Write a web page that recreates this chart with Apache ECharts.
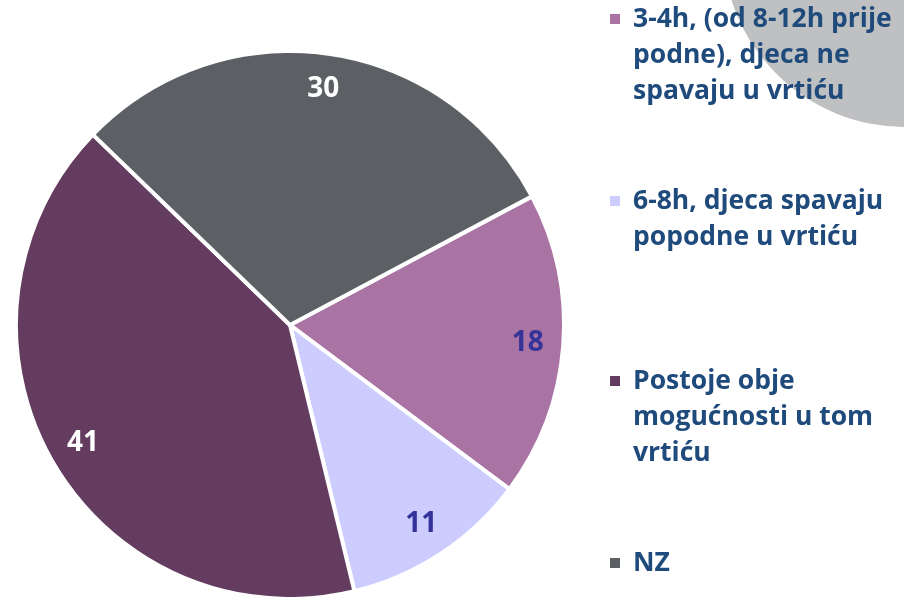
<!DOCTYPE html>
<html>
<head>
<meta charset="utf-8">
<script src="https://cdn.jsdelivr.net/npm/echarts@6/dist/echarts.min.js"></script>
<style>
  html, body { margin: 0; padding: 0; background: #fff; }
  #chart { width: 904px; height: 597px; }
</style>
</head>
<body>
<div id="chart"></div>
<script>
// data
const categories = [
  '3-4h, (od 8-12h prije podne), djeca ne spavaju u vrtiću',
  '6-8h, djeca spavaju popodne u vrtiću',
  'Postoje obje mogućnosti u tom vrtiću',
  'NZ'
]
const legendLines = [
  ['3-4h, (od 8-12h prije', 'podne), djeca ne', 'spavaju u vrtiću'],
  ['6-8h, djeca spavaju', 'popodne u vrtiću'],
  ['Postoje obje', 'mogućnosti u tom', 'vrtiću'],
  ['NZ']
]
const values = [18, 11, 41, 30]
const colors = ['#a974a4', '#ccccff', '#643c5f', '#5c6064']
const labelColors = ['#333399', '#333399', '#ffffff', '#ffffff']

const LINE_H = 36
const legendTops = [1, 183, 363, 545]

// square marker sitting on the first line of a multi-line legend entry
function markerIcon(lines) {
  const h = lines * LINE_H
  return 'path://M0,0h0.01v0.01h-0.01z M0,13h10v10h-10z M0,' + (h - 0.01) + 'h0.01v0.01h-0.01z'
}

const pieData = categories.map((name, i) => ({
  name: name,
  value: values[i],
  itemStyle: {color: colors[i]},
  label: {color: labelColors[i]}
}))

const legends = categories.map((name, i) => ({
  orient: 'vertical',
  left: 610,
  top: legendTops[i],
  padding: 0,
  itemWidth: 10,
  itemHeight: legendLines[i].length * LINE_H,
  itemGap: 0,
  selectedMode: false,
  data: [{name: name, icon: markerIcon(legendLines[i].length)}],
  itemStyle: {borderWidth: 0},
  formatter: () => legendLines[i].join('\n'),
  textStyle: {
    fontFamily: 'Open Sans',
    fontWeight: 'bold',
    fontSize: 26.5,
    lineHeight: LINE_H,
    color: '#1f4a7c',
    padding: [0, 0, 0, 8]
  }
}))

const chart = echarts.init(document.getElementById('chart'))
chart.setOption({
  animation: false,
  backgroundColor: '#ffffff',
  legend: legends,
  graphic: [{
    type: 'circle',
    z: -10,
    shape: {cx: 905, cy: -55, r: 182},
    style: {fill: '#bfc0c2'}
  }],
  series: [
    {
      type: 'pie',
      center: [290, 325],
      radius: 274,
      startAngle: 28,
      clockwise: true,
      data: pieData,
      itemStyle: {borderColor: '#ffffff', borderWidth: 4},
      label: {show: false},
      labelLine: {show: false}
    },
    {
      // transparent ring that places the value labels near the rim
      type: 'pie',
      center: [290, 325],
      radius: [197, 274],
      startAngle: 28,
      clockwise: true,
      silent: true,
      data: pieData.map(d => ({
        name: d.name,
        value: d.value,
        itemStyle: {color: 'rgba(0,0,0,0)'},
        label: d.label
      })),
      itemStyle: {borderWidth: 0},
      label: {
        show: true,
        position: 'inside',
        formatter: '{c}',
        fontFamily: 'Open Sans',
        fontWeight: 'bold',
        fontSize: 28
      },
      labelLine: {show: false}
    }
  ]
})
</script>
</body>
</html>
